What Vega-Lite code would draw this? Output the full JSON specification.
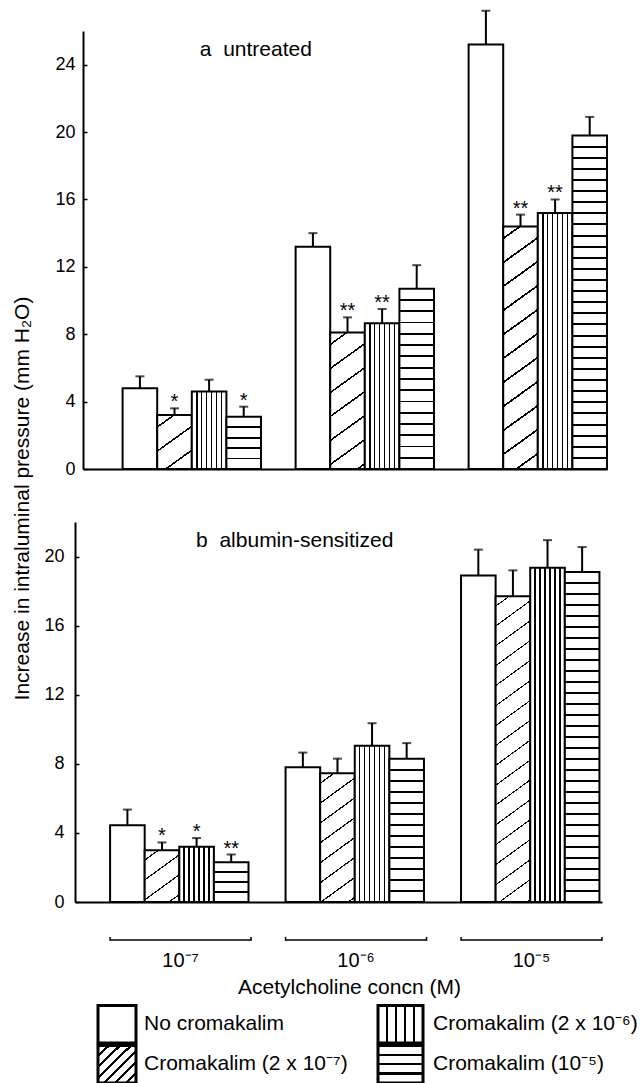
{
"$schema":"https://vega.github.io/schema/vega-lite/v6.json",
"padding":{"left":11,"top":9,"right":0,"bottom":0},
"config":{"view":{"stroke":null},"font":"Liberation Sans","axis":{"domainColor":"#000","tickColor":"#000","labelColor":"#000","titleColor":"#000","titleFontWeight":"normal","grid":false,"domainWidth":2,"labelFont":"Liberation Sans","titleFont":"Liberation Sans"}},
"datasets":{
"bars":[
{"panel":"a","dose":"10⁻⁷","treatment":"No cromakalim","value":4.8,"upper":5.5,"sig":""},
{"panel":"a","dose":"10⁻⁷","treatment":"Cromakalim (2 x 10⁻⁷)","value":3.2,"upper":3.6,"sig":"*"},
{"panel":"a","dose":"10⁻⁷","treatment":"Cromakalim (2 x 10⁻⁶)","value":4.6,"upper":5.3,"sig":""},
{"panel":"a","dose":"10⁻⁷","treatment":"Cromakalim (10⁻⁵)","value":3.1,"upper":3.7,"sig":"*"},
{"panel":"a","dose":"10⁻⁶","treatment":"No cromakalim","value":13.2,"upper":14.0,"sig":""},
{"panel":"a","dose":"10⁻⁶","treatment":"Cromakalim (2 x 10⁻⁷)","value":8.1,"upper":9.0,"sig":"**"},
{"panel":"a","dose":"10⁻⁶","treatment":"Cromakalim (2 x 10⁻⁶)","value":8.65,"upper":9.5,"sig":"**"},
{"panel":"a","dose":"10⁻⁶","treatment":"Cromakalim (10⁻⁵)","value":10.7,"upper":12.1,"sig":""},
{"panel":"a","dose":"10⁻⁵","treatment":"No cromakalim","value":25.2,"upper":27.2,"sig":""},
{"panel":"a","dose":"10⁻⁵","treatment":"Cromakalim (2 x 10⁻⁷)","value":14.4,"upper":15.1,"sig":"**"},
{"panel":"a","dose":"10⁻⁵","treatment":"Cromakalim (2 x 10⁻⁶)","value":15.2,"upper":16.0,"sig":"**"},
{"panel":"a","dose":"10⁻⁵","treatment":"Cromakalim (10⁻⁵)","value":19.8,"upper":20.9,"sig":""},
{"panel":"b","dose":"10⁻⁷","treatment":"No cromakalim","value":4.45,"upper":5.35,"sig":""},
{"panel":"b","dose":"10⁻⁷","treatment":"Cromakalim (2 x 10⁻⁷)","value":3.0,"upper":3.45,"sig":"*"},
{"panel":"b","dose":"10⁻⁷","treatment":"Cromakalim (2 x 10⁻⁶)","value":3.2,"upper":3.7,"sig":"*"},
{"panel":"b","dose":"10⁻⁷","treatment":"Cromakalim (10⁻⁵)","value":2.3,"upper":2.75,"sig":"**"},
{"panel":"b","dose":"10⁻⁶","treatment":"No cromakalim","value":7.8,"upper":8.65,"sig":""},
{"panel":"b","dose":"10⁻⁶","treatment":"Cromakalim (2 x 10⁻⁷)","value":7.45,"upper":8.3,"sig":""},
{"panel":"b","dose":"10⁻⁶","treatment":"Cromakalim (2 x 10⁻⁶)","value":9.05,"upper":10.35,"sig":""},
{"panel":"b","dose":"10⁻⁶","treatment":"Cromakalim (10⁻⁵)","value":8.3,"upper":9.2,"sig":""},
{"panel":"b","dose":"10⁻⁵","treatment":"No cromakalim","value":18.9,"upper":20.4,"sig":""},
{"panel":"b","dose":"10⁻⁵","treatment":"Cromakalim (2 x 10⁻⁷)","value":17.7,"upper":19.2,"sig":""},
{"panel":"b","dose":"10⁻⁵","treatment":"Cromakalim (2 x 10⁻⁶)","value":19.35,"upper":20.95,"sig":""},
{"panel":"b","dose":"10⁻⁵","treatment":"Cromakalim (10⁻⁵)","value":19.1,"upper":20.55,"sig":""}
],
"leg1":[{"label":"No cromakalim"},{"label":"Cromakalim (2 x 10⁻⁷)"}],
"leg2":[{"label":"Cromakalim (2 x 10⁻⁶)"},{"label":"Cromakalim (10⁻⁵)"}]
},
"bounds":"flush",
"spacing":53,
"vconcat":[
{
"width":524,"height":438,
"layer":[
{"data":{"name":"bars"},"transform":[{"filter":"datum.panel === 'a'"}],
"mark":{"type":"bar","stroke":"#000","strokeWidth":2},
"encoding":{
"x":{"field":"dose","type":"nominal","sort":null,"scale":{"domain":["10⁻⁷","10⁻⁶","10⁻⁵"],"paddingInner":0.2,"paddingOuter":0.1145,"align":1},"axis":{"labels":false,"ticks":false,"title":null,"domainWidth":2}},
"xOffset":{"field":"treatment","type":"nominal","sort":null,"scale":{"domain":["No cromakalim","Cromakalim (2 x 10⁻⁷)","Cromakalim (2 x 10⁻⁶)","Cromakalim (10⁻⁵)"],"paddingInner":0,"paddingOuter":0}},
"y":{"field":"value","type":"quantitative","scale":{"domain":[0,26],"nice":false},"axis":{"values":[0,2,4,6,8,10,12,14,16,18,20,22,24],"labelExpr":"datum.value % 4 === 0 ? datum.label : ''","tickSize":-4,"tickWidth":1.5,"labelPadding":12,"labelFontSize":18,"labelOverlap":false,"domainWidth":2,"title":"Increase in intraluminal pressure (mm H₂O)","titleFontSize":21,"titleX":-60.5,"titleY":467,"titleAlign":"center","titleBaseline":"middle","titleAngle":270}},
"fill":{"condition":[
{"test":"datum.treatment === 'Cromakalim (2 x 10⁻⁶)'","value":{"gradient":"linear","x1":0,"y1":0,"x2":1,"y2":0,"stops":[
{"offset":0.121,"color":"#fff"},{"offset":0.121,"color":"#000"},{"offset":0.165,"color":"#000"},{"offset":0.165,"color":"#fff"},
{"offset":0.264,"color":"#fff"},{"offset":0.264,"color":"#000"},{"offset":0.308,"color":"#000"},{"offset":0.308,"color":"#fff"},
{"offset":0.407,"color":"#fff"},{"offset":0.407,"color":"#000"},{"offset":0.451,"color":"#000"},{"offset":0.451,"color":"#fff"},
{"offset":0.549,"color":"#fff"},{"offset":0.549,"color":"#000"},{"offset":0.593,"color":"#000"},{"offset":0.593,"color":"#fff"},
{"offset":0.692,"color":"#fff"},{"offset":0.692,"color":"#000"},{"offset":0.736,"color":"#000"},{"offset":0.736,"color":"#fff"},
{"offset":0.835,"color":"#fff"},{"offset":0.835,"color":"#000"},{"offset":0.879,"color":"#000"},{"offset":0.879,"color":"#fff"}]}},
{"test":"datum.treatment === 'Cromakalim (10⁻⁵)' && datum.dose === '10⁻⁷'","value":{"gradient":"linear","x1":0,"y1":0,"x2":0,"y2":1,"stops":[
{"offset":0.183,"color":"#fff"},{"offset":0.183,"color":"#000"},{"offset":0.217,"color":"#000"},{"offset":0.217,"color":"#fff"},
{"offset":0.383,"color":"#fff"},{"offset":0.383,"color":"#000"},{"offset":0.417,"color":"#000"},{"offset":0.417,"color":"#fff"},
{"offset":0.583,"color":"#fff"},{"offset":0.583,"color":"#000"},{"offset":0.617,"color":"#000"},{"offset":0.617,"color":"#fff"},
{"offset":0.783,"color":"#fff"},{"offset":0.783,"color":"#000"},{"offset":0.817,"color":"#000"},{"offset":0.817,"color":"#fff"}]}},
{"test":"datum.treatment === 'Cromakalim (10⁻⁵)' && datum.dose === '10⁻⁶'","value":{"gradient":"linear","x1":0,"y1":0,"x2":0,"y2":1,"stops":[
{"offset":0.0575,"color":"#fff"},{"offset":0.0575,"color":"#000"},{"offset":0.0675,"color":"#000"},{"offset":0.0675,"color":"#fff"},
{"offset":0.12,"color":"#fff"},{"offset":0.12,"color":"#000"},{"offset":0.13,"color":"#000"},{"offset":0.13,"color":"#fff"},
{"offset":0.1825,"color":"#fff"},{"offset":0.1825,"color":"#000"},{"offset":0.1925,"color":"#000"},{"offset":0.1925,"color":"#fff"},
{"offset":0.245,"color":"#fff"},{"offset":0.245,"color":"#000"},{"offset":0.255,"color":"#000"},{"offset":0.255,"color":"#fff"},
{"offset":0.3075,"color":"#fff"},{"offset":0.3075,"color":"#000"},{"offset":0.3175,"color":"#000"},{"offset":0.3175,"color":"#fff"},
{"offset":0.37,"color":"#fff"},{"offset":0.37,"color":"#000"},{"offset":0.38,"color":"#000"},{"offset":0.38,"color":"#fff"},
{"offset":0.4325,"color":"#fff"},{"offset":0.4325,"color":"#000"},{"offset":0.4425,"color":"#000"},{"offset":0.4425,"color":"#fff"},
{"offset":0.495,"color":"#fff"},{"offset":0.495,"color":"#000"},{"offset":0.505,"color":"#000"},{"offset":0.505,"color":"#fff"},
{"offset":0.5575,"color":"#fff"},{"offset":0.5575,"color":"#000"},{"offset":0.5675,"color":"#000"},{"offset":0.5675,"color":"#fff"},
{"offset":0.62,"color":"#fff"},{"offset":0.62,"color":"#000"},{"offset":0.63,"color":"#000"},{"offset":0.63,"color":"#fff"},
{"offset":0.6825,"color":"#fff"},{"offset":0.6825,"color":"#000"},{"offset":0.6925,"color":"#000"},{"offset":0.6925,"color":"#fff"},
{"offset":0.745,"color":"#fff"},{"offset":0.745,"color":"#000"},{"offset":0.755,"color":"#000"},{"offset":0.755,"color":"#fff"},
{"offset":0.8075,"color":"#fff"},{"offset":0.8075,"color":"#000"},{"offset":0.8175,"color":"#000"},{"offset":0.8175,"color":"#fff"},
{"offset":0.87,"color":"#fff"},{"offset":0.87,"color":"#000"},{"offset":0.88,"color":"#000"},{"offset":0.88,"color":"#fff"},
{"offset":0.9325,"color":"#fff"},{"offset":0.9325,"color":"#000"},{"offset":0.9425,"color":"#000"},{"offset":0.9425,"color":"#fff"}]}},
{"test":"datum.treatment === 'Cromakalim (10⁻⁵)' && datum.dose === '10⁻⁵'","value":{"gradient":"linear","x1":0,"y1":0,"x2":0,"y2":1,"stops":[
{"offset":0.0303,"color":"#fff"},{"offset":0.0303,"color":"#000"},{"offset":0.0363,"color":"#000"},{"offset":0.0363,"color":"#fff"},
{"offset":0.0637,"color":"#fff"},{"offset":0.0637,"color":"#000"},{"offset":0.0697,"color":"#000"},{"offset":0.0697,"color":"#fff"},
{"offset":0.097,"color":"#fff"},{"offset":0.097,"color":"#000"},{"offset":0.103,"color":"#000"},{"offset":0.103,"color":"#fff"},
{"offset":0.1303,"color":"#fff"},{"offset":0.1303,"color":"#000"},{"offset":0.1363,"color":"#000"},{"offset":0.1363,"color":"#fff"},
{"offset":0.1637,"color":"#fff"},{"offset":0.1637,"color":"#000"},{"offset":0.1697,"color":"#000"},{"offset":0.1697,"color":"#fff"},
{"offset":0.197,"color":"#fff"},{"offset":0.197,"color":"#000"},{"offset":0.203,"color":"#000"},{"offset":0.203,"color":"#fff"},
{"offset":0.2303,"color":"#fff"},{"offset":0.2303,"color":"#000"},{"offset":0.2363,"color":"#000"},{"offset":0.2363,"color":"#fff"},
{"offset":0.2637,"color":"#fff"},{"offset":0.2637,"color":"#000"},{"offset":0.2697,"color":"#000"},{"offset":0.2697,"color":"#fff"},
{"offset":0.297,"color":"#fff"},{"offset":0.297,"color":"#000"},{"offset":0.303,"color":"#000"},{"offset":0.303,"color":"#fff"},
{"offset":0.3303,"color":"#fff"},{"offset":0.3303,"color":"#000"},{"offset":0.3363,"color":"#000"},{"offset":0.3363,"color":"#fff"},
{"offset":0.3637,"color":"#fff"},{"offset":0.3637,"color":"#000"},{"offset":0.3697,"color":"#000"},{"offset":0.3697,"color":"#fff"},
{"offset":0.397,"color":"#fff"},{"offset":0.397,"color":"#000"},{"offset":0.403,"color":"#000"},{"offset":0.403,"color":"#fff"},
{"offset":0.4303,"color":"#fff"},{"offset":0.4303,"color":"#000"},{"offset":0.4363,"color":"#000"},{"offset":0.4363,"color":"#fff"},
{"offset":0.4637,"color":"#fff"},{"offset":0.4637,"color":"#000"},{"offset":0.4697,"color":"#000"},{"offset":0.4697,"color":"#fff"},
{"offset":0.497,"color":"#fff"},{"offset":0.497,"color":"#000"},{"offset":0.503,"color":"#000"},{"offset":0.503,"color":"#fff"},
{"offset":0.5303,"color":"#fff"},{"offset":0.5303,"color":"#000"},{"offset":0.5363,"color":"#000"},{"offset":0.5363,"color":"#fff"},
{"offset":0.5637,"color":"#fff"},{"offset":0.5637,"color":"#000"},{"offset":0.5697,"color":"#000"},{"offset":0.5697,"color":"#fff"},
{"offset":0.597,"color":"#fff"},{"offset":0.597,"color":"#000"},{"offset":0.603,"color":"#000"},{"offset":0.603,"color":"#fff"},
{"offset":0.6303,"color":"#fff"},{"offset":0.6303,"color":"#000"},{"offset":0.6363,"color":"#000"},{"offset":0.6363,"color":"#fff"},
{"offset":0.6637,"color":"#fff"},{"offset":0.6637,"color":"#000"},{"offset":0.6697,"color":"#000"},{"offset":0.6697,"color":"#fff"},
{"offset":0.697,"color":"#fff"},{"offset":0.697,"color":"#000"},{"offset":0.703,"color":"#000"},{"offset":0.703,"color":"#fff"},
{"offset":0.7303,"color":"#fff"},{"offset":0.7303,"color":"#000"},{"offset":0.7363,"color":"#000"},{"offset":0.7363,"color":"#fff"},
{"offset":0.7637,"color":"#fff"},{"offset":0.7637,"color":"#000"},{"offset":0.7697,"color":"#000"},{"offset":0.7697,"color":"#fff"},
{"offset":0.797,"color":"#fff"},{"offset":0.797,"color":"#000"},{"offset":0.803,"color":"#000"},{"offset":0.803,"color":"#fff"},
{"offset":0.8303,"color":"#fff"},{"offset":0.8303,"color":"#000"},{"offset":0.8363,"color":"#000"},{"offset":0.8363,"color":"#fff"},
{"offset":0.8637,"color":"#fff"},{"offset":0.8637,"color":"#000"},{"offset":0.8697,"color":"#000"},{"offset":0.8697,"color":"#fff"},
{"offset":0.897,"color":"#fff"},{"offset":0.897,"color":"#000"},{"offset":0.903,"color":"#000"},{"offset":0.903,"color":"#fff"},
{"offset":0.9303,"color":"#fff"},{"offset":0.9303,"color":"#000"},{"offset":0.9363,"color":"#000"},{"offset":0.9363,"color":"#fff"},
{"offset":0.9637,"color":"#fff"},{"offset":0.9637,"color":"#000"},{"offset":0.9697,"color":"#000"},{"offset":0.9697,"color":"#fff"}]}},
{"test":"datum.treatment === 'Cromakalim (2 x 10⁻⁷)' && datum.dose === '10⁻⁷'","value":{"gradient":"linear","x1":0,"y1":0,"x2":0.5565,"y2":1.2047,"stops":[
{"offset":0.14,"color":"#fff"},{"offset":0.14,"color":"#000"},{"offset":0.165,"color":"#000"},{"offset":0.165,"color":"#fff"},
{"offset":0.445,"color":"#fff"},{"offset":0.445,"color":"#000"},{"offset":0.47,"color":"#000"},{"offset":0.47,"color":"#fff"},
{"offset":0.749,"color":"#fff"},{"offset":0.749,"color":"#000"},{"offset":0.774,"color":"#000"},{"offset":0.774,"color":"#fff"}]}},
{"test":"datum.treatment === 'Cromakalim (2 x 10⁻⁷)' && datum.dose === '10⁻⁶'","value":{"gradient":"linear","x1":0,"y1":0,"x2":0.2088,"y2":1.1444,"stops":[
{"offset":0.068,"color":"#fff"},{"offset":0.068,"color":"#000"},{"offset":0.08,"color":"#000"},{"offset":0.08,"color":"#fff"},
{"offset":0.217,"color":"#fff"},{"offset":0.217,"color":"#000"},{"offset":0.229,"color":"#000"},{"offset":0.229,"color":"#fff"},
{"offset":0.366,"color":"#fff"},{"offset":0.366,"color":"#000"},{"offset":0.378,"color":"#000"},{"offset":0.378,"color":"#fff"},
{"offset":0.514,"color":"#fff"},{"offset":0.514,"color":"#000"},{"offset":0.526,"color":"#000"},{"offset":0.526,"color":"#fff"},
{"offset":0.663,"color":"#fff"},{"offset":0.663,"color":"#000"},{"offset":0.675,"color":"#000"},{"offset":0.675,"color":"#fff"},
{"offset":0.812,"color":"#fff"},{"offset":0.812,"color":"#000"},{"offset":0.824,"color":"#000"},{"offset":0.824,"color":"#fff"},
{"offset":0.961,"color":"#fff"},{"offset":0.961,"color":"#000"},{"offset":0.973,"color":"#000"},{"offset":0.973,"color":"#fff"}]}},
{"test":"datum.treatment === 'Cromakalim (2 x 10⁻⁷)' && datum.dose === '10⁻⁵'","value":{"gradient":"linear","x1":0,"y1":0,"x2":0.112,"y2":1.0912,"stops":[
{"offset":0.041,"color":"#fff"},{"offset":0.041,"color":"#000"},{"offset":0.049,"color":"#000"},{"offset":0.049,"color":"#fff"},
{"offset":0.131,"color":"#fff"},{"offset":0.131,"color":"#000"},{"offset":0.139,"color":"#000"},{"offset":0.139,"color":"#fff"},
{"offset":0.22,"color":"#fff"},{"offset":0.22,"color":"#000"},{"offset":0.228,"color":"#000"},{"offset":0.228,"color":"#fff"},
{"offset":0.31,"color":"#fff"},{"offset":0.31,"color":"#000"},{"offset":0.318,"color":"#000"},{"offset":0.318,"color":"#fff"},
{"offset":0.4,"color":"#fff"},{"offset":0.4,"color":"#000"},{"offset":0.408,"color":"#000"},{"offset":0.408,"color":"#fff"},
{"offset":0.489,"color":"#fff"},{"offset":0.489,"color":"#000"},{"offset":0.497,"color":"#000"},{"offset":0.497,"color":"#fff"},
{"offset":0.579,"color":"#fff"},{"offset":0.579,"color":"#000"},{"offset":0.587,"color":"#000"},{"offset":0.587,"color":"#fff"},
{"offset":0.669,"color":"#fff"},{"offset":0.669,"color":"#000"},{"offset":0.677,"color":"#000"},{"offset":0.677,"color":"#fff"},
{"offset":0.759,"color":"#fff"},{"offset":0.759,"color":"#000"},{"offset":0.767,"color":"#000"},{"offset":0.767,"color":"#fff"},
{"offset":0.848,"color":"#fff"},{"offset":0.848,"color":"#000"},{"offset":0.856,"color":"#000"},{"offset":0.856,"color":"#fff"},
{"offset":0.938,"color":"#fff"},{"offset":0.938,"color":"#000"},{"offset":0.946,"color":"#000"},{"offset":0.946,"color":"#fff"}]}}
],"value":"#fff"}
}},
{"data":{"name":"bars"},"transform":[{"filter":"datum.panel === 'a'"}],
"mark":{"type":"rule","stroke":"#000","strokeWidth":2},
"encoding":{
"x":{"field":"dose","type":"nominal","sort":null,"scale":{"domain":["10⁻⁷","10⁻⁶","10⁻⁵"],"paddingInner":0.2,"paddingOuter":0.1145,"align":1}},
"xOffset":{"field":"treatment","type":"nominal","sort":null,"scale":{"domain":["No cromakalim","Cromakalim (2 x 10⁻⁷)","Cromakalim (2 x 10⁻⁶)","Cromakalim (10⁻⁵)"],"paddingInner":0,"paddingOuter":0}},
"y":{"field":"value","type":"quantitative","scale":{"domain":[0,26],"nice":false}},
"y2":{"field":"upper"}}},
{"data":{"name":"bars"},"transform":[{"filter":"datum.panel === 'a'"}],
"mark":{"type":"tick","color":"#000","thickness":2,"size":9},
"encoding":{
"x":{"field":"dose","type":"nominal","sort":null,"scale":{"domain":["10⁻⁷","10⁻⁶","10⁻⁵"],"paddingInner":0.2,"paddingOuter":0.1145,"align":1}},
"xOffset":{"field":"treatment","type":"nominal","sort":null,"scale":{"domain":["No cromakalim","Cromakalim (2 x 10⁻⁷)","Cromakalim (2 x 10⁻⁶)","Cromakalim (10⁻⁵)"],"paddingInner":0,"paddingOuter":0}},
"y":{"field":"upper","type":"quantitative","scale":{"domain":[0,26],"nice":false}}}},
{"data":{"name":"bars"},"transform":[{"filter":"datum.panel === 'a' && datum.sig !== ''"}],
"mark":{"type":"text","color":"#000","fontSize":20,"baseline":"alphabetic","dy":0},
"encoding":{
"x":{"field":"dose","type":"nominal","sort":null,"scale":{"domain":["10⁻⁷","10⁻⁶","10⁻⁵"],"paddingInner":0.2,"paddingOuter":0.1145,"align":1}},
"xOffset":{"field":"treatment","type":"nominal","sort":null,"scale":{"domain":["No cromakalim","Cromakalim (2 x 10⁻⁷)","Cromakalim (2 x 10⁻⁶)","Cromakalim (10⁻⁵)"],"paddingInner":0,"paddingOuter":0}},
"y":{"field":"upper","type":"quantitative","scale":{"domain":[0,26],"nice":false}},
"text":{"field":"sig"}}},
{"data":{"values":[{"label":"a\u00a0 untreated"}]},
"mark":{"type":"text","color":"#000","fontSize":21,"align":"left","baseline":"middle","dx":8},
"encoding":{
"x":{"datum":"10⁻⁷","type":"nominal","scale":{"domain":["10⁻⁷","10⁻⁶","10⁻⁵"],"paddingInner":0.2,"paddingOuter":0.1145,"align":1}},
"y":{"datum":24.9,"type":"quantitative","scale":{"domain":[0,26],"nice":false}},
"text":{"field":"label"}}}
]
},
{
"width":519,"height":380,
"layer":[
{"data":{"name":"bars"},"transform":[{"filter":"datum.panel === 'b'"}],
"mark":{"type":"bar","stroke":"#000","strokeWidth":2},
"encoding":{
"x":{"field":"dose","type":"nominal","sort":null,"scale":{"domain":["10⁻⁷","10⁻⁶","10⁻⁵"],"paddingInner":0.1966,"paddingOuter":0.1,"align":1,"range":[-8,519]},"axis":{"labels":true,"ticks":false,"labelPadding":48,"labelFontSize":20,"labelAngle":0,"domainWidth":2,"title":"Acetylcholine concn (M)","titleFontSize":21,"titleX":266,"titleY":91,"titleAlign":"center","titleBaseline":"alphabetic"}},
"xOffset":{"field":"treatment","type":"nominal","sort":null,"scale":{"domain":["No cromakalim","Cromakalim (2 x 10⁻⁷)","Cromakalim (2 x 10⁻⁶)","Cromakalim (10⁻⁵)"],"paddingInner":0,"paddingOuter":0}},
"y":{"field":"value","type":"quantitative","scale":{"domain":[0,22],"nice":false},"axis":{"values":[0,2,4,6,8,10,12,14,16,18,20,22],"labelExpr":"datum.value % 4 === 0 ? datum.label : ''","tickSize":-4,"tickWidth":1.5,"labelPadding":15,"labelFontSize":18,"labelOverlap":false,"domainWidth":2,"offset":8,"title":null}},
"fill":{"condition":[
{"test":"datum.treatment === 'Cromakalim (2 x 10⁻⁶)'","value":{"gradient":"linear","x1":0,"y1":0,"x2":1,"y2":0,"stops":[
{"offset":0.121,"color":"#fff"},{"offset":0.121,"color":"#000"},{"offset":0.165,"color":"#000"},{"offset":0.165,"color":"#fff"},
{"offset":0.264,"color":"#fff"},{"offset":0.264,"color":"#000"},{"offset":0.308,"color":"#000"},{"offset":0.308,"color":"#fff"},
{"offset":0.407,"color":"#fff"},{"offset":0.407,"color":"#000"},{"offset":0.451,"color":"#000"},{"offset":0.451,"color":"#fff"},
{"offset":0.549,"color":"#fff"},{"offset":0.549,"color":"#000"},{"offset":0.593,"color":"#000"},{"offset":0.593,"color":"#fff"},
{"offset":0.692,"color":"#fff"},{"offset":0.692,"color":"#000"},{"offset":0.736,"color":"#000"},{"offset":0.736,"color":"#fff"},
{"offset":0.835,"color":"#fff"},{"offset":0.835,"color":"#000"},{"offset":0.879,"color":"#000"},{"offset":0.879,"color":"#fff"}]}},
{"test":"datum.treatment === 'Cromakalim (10⁻⁵)' && datum.dose === '10⁻⁷'","value":{"gradient":"linear","x1":0,"y1":0,"x2":0,"y2":1,"stops":[
{"offset":0.228,"color":"#fff"},{"offset":0.228,"color":"#000"},{"offset":0.272,"color":"#000"},{"offset":0.272,"color":"#fff"},
{"offset":0.478,"color":"#fff"},{"offset":0.478,"color":"#000"},{"offset":0.522,"color":"#000"},{"offset":0.522,"color":"#fff"},
{"offset":0.728,"color":"#fff"},{"offset":0.728,"color":"#000"},{"offset":0.772,"color":"#000"},{"offset":0.772,"color":"#fff"}]}},
{"test":"datum.treatment === 'Cromakalim (10⁻⁵)' && datum.dose === '10⁻⁶'","value":{"gradient":"linear","x1":0,"y1":0,"x2":0,"y2":1,"stops":[
{"offset":0.0709,"color":"#fff"},{"offset":0.0709,"color":"#000"},{"offset":0.0829,"color":"#000"},{"offset":0.0829,"color":"#fff"},
{"offset":0.1478,"color":"#fff"},{"offset":0.1478,"color":"#000"},{"offset":0.1598,"color":"#000"},{"offset":0.1598,"color":"#fff"},
{"offset":0.2248,"color":"#fff"},{"offset":0.2248,"color":"#000"},{"offset":0.2368,"color":"#000"},{"offset":0.2368,"color":"#fff"},
{"offset":0.3017,"color":"#fff"},{"offset":0.3017,"color":"#000"},{"offset":0.3137,"color":"#000"},{"offset":0.3137,"color":"#fff"},
{"offset":0.3786,"color":"#fff"},{"offset":0.3786,"color":"#000"},{"offset":0.3906,"color":"#000"},{"offset":0.3906,"color":"#fff"},
{"offset":0.4555,"color":"#fff"},{"offset":0.4555,"color":"#000"},{"offset":0.4675,"color":"#000"},{"offset":0.4675,"color":"#fff"},
{"offset":0.5325,"color":"#fff"},{"offset":0.5325,"color":"#000"},{"offset":0.5445,"color":"#000"},{"offset":0.5445,"color":"#fff"},
{"offset":0.6094,"color":"#fff"},{"offset":0.6094,"color":"#000"},{"offset":0.6214,"color":"#000"},{"offset":0.6214,"color":"#fff"},
{"offset":0.6863,"color":"#fff"},{"offset":0.6863,"color":"#000"},{"offset":0.6983,"color":"#000"},{"offset":0.6983,"color":"#fff"},
{"offset":0.7632,"color":"#fff"},{"offset":0.7632,"color":"#000"},{"offset":0.7752,"color":"#000"},{"offset":0.7752,"color":"#fff"},
{"offset":0.8402,"color":"#fff"},{"offset":0.8402,"color":"#000"},{"offset":0.8522,"color":"#000"},{"offset":0.8522,"color":"#fff"},
{"offset":0.9171,"color":"#fff"},{"offset":0.9171,"color":"#000"},{"offset":0.9291,"color":"#000"},{"offset":0.9291,"color":"#fff"}]}},
{"test":"datum.treatment === 'Cromakalim (10⁻⁵)' && datum.dose === '10⁻⁵'","value":{"gradient":"linear","x1":0,"y1":0,"x2":0,"y2":1,"stops":[
{"offset":0.0303,"color":"#fff"},{"offset":0.0303,"color":"#000"},{"offset":0.0363,"color":"#000"},{"offset":0.0363,"color":"#fff"},
{"offset":0.0637,"color":"#fff"},{"offset":0.0637,"color":"#000"},{"offset":0.0697,"color":"#000"},{"offset":0.0697,"color":"#fff"},
{"offset":0.097,"color":"#fff"},{"offset":0.097,"color":"#000"},{"offset":0.103,"color":"#000"},{"offset":0.103,"color":"#fff"},
{"offset":0.1303,"color":"#fff"},{"offset":0.1303,"color":"#000"},{"offset":0.1363,"color":"#000"},{"offset":0.1363,"color":"#fff"},
{"offset":0.1637,"color":"#fff"},{"offset":0.1637,"color":"#000"},{"offset":0.1697,"color":"#000"},{"offset":0.1697,"color":"#fff"},
{"offset":0.197,"color":"#fff"},{"offset":0.197,"color":"#000"},{"offset":0.203,"color":"#000"},{"offset":0.203,"color":"#fff"},
{"offset":0.2303,"color":"#fff"},{"offset":0.2303,"color":"#000"},{"offset":0.2363,"color":"#000"},{"offset":0.2363,"color":"#fff"},
{"offset":0.2637,"color":"#fff"},{"offset":0.2637,"color":"#000"},{"offset":0.2697,"color":"#000"},{"offset":0.2697,"color":"#fff"},
{"offset":0.297,"color":"#fff"},{"offset":0.297,"color":"#000"},{"offset":0.303,"color":"#000"},{"offset":0.303,"color":"#fff"},
{"offset":0.3303,"color":"#fff"},{"offset":0.3303,"color":"#000"},{"offset":0.3363,"color":"#000"},{"offset":0.3363,"color":"#fff"},
{"offset":0.3637,"color":"#fff"},{"offset":0.3637,"color":"#000"},{"offset":0.3697,"color":"#000"},{"offset":0.3697,"color":"#fff"},
{"offset":0.397,"color":"#fff"},{"offset":0.397,"color":"#000"},{"offset":0.403,"color":"#000"},{"offset":0.403,"color":"#fff"},
{"offset":0.4303,"color":"#fff"},{"offset":0.4303,"color":"#000"},{"offset":0.4363,"color":"#000"},{"offset":0.4363,"color":"#fff"},
{"offset":0.4637,"color":"#fff"},{"offset":0.4637,"color":"#000"},{"offset":0.4697,"color":"#000"},{"offset":0.4697,"color":"#fff"},
{"offset":0.497,"color":"#fff"},{"offset":0.497,"color":"#000"},{"offset":0.503,"color":"#000"},{"offset":0.503,"color":"#fff"},
{"offset":0.5303,"color":"#fff"},{"offset":0.5303,"color":"#000"},{"offset":0.5363,"color":"#000"},{"offset":0.5363,"color":"#fff"},
{"offset":0.5637,"color":"#fff"},{"offset":0.5637,"color":"#000"},{"offset":0.5697,"color":"#000"},{"offset":0.5697,"color":"#fff"},
{"offset":0.597,"color":"#fff"},{"offset":0.597,"color":"#000"},{"offset":0.603,"color":"#000"},{"offset":0.603,"color":"#fff"},
{"offset":0.6303,"color":"#fff"},{"offset":0.6303,"color":"#000"},{"offset":0.6363,"color":"#000"},{"offset":0.6363,"color":"#fff"},
{"offset":0.6637,"color":"#fff"},{"offset":0.6637,"color":"#000"},{"offset":0.6697,"color":"#000"},{"offset":0.6697,"color":"#fff"},
{"offset":0.697,"color":"#fff"},{"offset":0.697,"color":"#000"},{"offset":0.703,"color":"#000"},{"offset":0.703,"color":"#fff"},
{"offset":0.7303,"color":"#fff"},{"offset":0.7303,"color":"#000"},{"offset":0.7363,"color":"#000"},{"offset":0.7363,"color":"#fff"},
{"offset":0.7637,"color":"#fff"},{"offset":0.7637,"color":"#000"},{"offset":0.7697,"color":"#000"},{"offset":0.7697,"color":"#fff"},
{"offset":0.797,"color":"#fff"},{"offset":0.797,"color":"#000"},{"offset":0.803,"color":"#000"},{"offset":0.803,"color":"#fff"},
{"offset":0.8303,"color":"#fff"},{"offset":0.8303,"color":"#000"},{"offset":0.8363,"color":"#000"},{"offset":0.8363,"color":"#fff"},
{"offset":0.8637,"color":"#fff"},{"offset":0.8637,"color":"#000"},{"offset":0.8697,"color":"#000"},{"offset":0.8697,"color":"#fff"},
{"offset":0.897,"color":"#fff"},{"offset":0.897,"color":"#000"},{"offset":0.903,"color":"#000"},{"offset":0.903,"color":"#fff"},
{"offset":0.9303,"color":"#fff"},{"offset":0.9303,"color":"#000"},{"offset":0.9363,"color":"#000"},{"offset":0.9363,"color":"#fff"},
{"offset":0.9637,"color":"#fff"},{"offset":0.9637,"color":"#000"},{"offset":0.9697,"color":"#000"},{"offset":0.9697,"color":"#fff"}]}},
{"test":"datum.treatment === 'Cromakalim (2 x 10⁻⁷)' && datum.dose === '10⁻⁷'","value":{"gradient":"linear","x1":0,"y1":0,"x2":0.5852,"y2":1.2018,"stops":[
{"offset":0.1195,"color":"#fff"},{"offset":0.1195,"color":"#000"},{"offset":0.1385,"color":"#000"},{"offset":0.1385,"color":"#fff"},
{"offset":0.3775,"color":"#fff"},{"offset":0.3775,"color":"#000"},{"offset":0.3965,"color":"#000"},{"offset":0.3965,"color":"#fff"},
{"offset":0.6355,"color":"#fff"},{"offset":0.6355,"color":"#000"},{"offset":0.6545,"color":"#000"},{"offset":0.6545,"color":"#fff"},
{"offset":0.8935,"color":"#fff"},{"offset":0.8935,"color":"#000"},{"offset":0.9125,"color":"#000"},{"offset":0.9125,"color":"#fff"}]}},
{"test":"datum.treatment === 'Cromakalim (2 x 10⁻⁷)' && datum.dose === '10⁻⁶'","value":{"gradient":"linear","x1":0,"y1":0,"x2":0.226,"y2":1.1518,"stops":[
{"offset":0.06,"color":"#fff"},{"offset":0.06,"color":"#000"},{"offset":0.07,"color":"#000"},{"offset":0.07,"color":"#fff"},
{"offset":0.189,"color":"#fff"},{"offset":0.189,"color":"#000"},{"offset":0.199,"color":"#000"},{"offset":0.199,"color":"#fff"},
{"offset":0.318,"color":"#fff"},{"offset":0.318,"color":"#000"},{"offset":0.328,"color":"#000"},{"offset":0.328,"color":"#fff"},
{"offset":0.447,"color":"#fff"},{"offset":0.447,"color":"#000"},{"offset":0.457,"color":"#000"},{"offset":0.457,"color":"#fff"},
{"offset":0.576,"color":"#fff"},{"offset":0.576,"color":"#000"},{"offset":0.586,"color":"#000"},{"offset":0.586,"color":"#fff"},
{"offset":0.706,"color":"#fff"},{"offset":0.706,"color":"#000"},{"offset":0.716,"color":"#000"},{"offset":0.716,"color":"#fff"},
{"offset":0.835,"color":"#fff"},{"offset":0.835,"color":"#000"},{"offset":0.845,"color":"#000"},{"offset":0.845,"color":"#fff"},
{"offset":0.964,"color":"#fff"},{"offset":0.964,"color":"#000"},{"offset":0.974,"color":"#000"},{"offset":0.974,"color":"#fff"}]}},
{"test":"datum.treatment === 'Cromakalim (2 x 10⁻⁷)' && datum.dose === '10⁻⁵'","value":{"gradient":"linear","x1":0,"y1":0,"x2":0.0888,"y2":1.0753,"stops":[
{"offset":0.028,"color":"#fff"},{"offset":0.028,"color":"#000"},{"offset":0.032,"color":"#000"},{"offset":0.032,"color":"#fff"},
{"offset":0.088,"color":"#fff"},{"offset":0.088,"color":"#000"},{"offset":0.092,"color":"#000"},{"offset":0.092,"color":"#fff"},
{"offset":0.148,"color":"#fff"},{"offset":0.148,"color":"#000"},{"offset":0.152,"color":"#000"},{"offset":0.152,"color":"#fff"},
{"offset":0.208,"color":"#fff"},{"offset":0.208,"color":"#000"},{"offset":0.212,"color":"#000"},{"offset":0.212,"color":"#fff"},
{"offset":0.268,"color":"#fff"},{"offset":0.268,"color":"#000"},{"offset":0.272,"color":"#000"},{"offset":0.272,"color":"#fff"},
{"offset":0.329,"color":"#fff"},{"offset":0.329,"color":"#000"},{"offset":0.333,"color":"#000"},{"offset":0.333,"color":"#fff"},
{"offset":0.389,"color":"#fff"},{"offset":0.389,"color":"#000"},{"offset":0.393,"color":"#000"},{"offset":0.393,"color":"#fff"},
{"offset":0.449,"color":"#fff"},{"offset":0.449,"color":"#000"},{"offset":0.453,"color":"#000"},{"offset":0.453,"color":"#fff"},
{"offset":0.509,"color":"#fff"},{"offset":0.509,"color":"#000"},{"offset":0.513,"color":"#000"},{"offset":0.513,"color":"#fff"},
{"offset":0.569,"color":"#fff"},{"offset":0.569,"color":"#000"},{"offset":0.573,"color":"#000"},{"offset":0.573,"color":"#fff"},
{"offset":0.629,"color":"#fff"},{"offset":0.629,"color":"#000"},{"offset":0.633,"color":"#000"},{"offset":0.633,"color":"#fff"},
{"offset":0.689,"color":"#fff"},{"offset":0.689,"color":"#000"},{"offset":0.693,"color":"#000"},{"offset":0.693,"color":"#fff"},
{"offset":0.749,"color":"#fff"},{"offset":0.749,"color":"#000"},{"offset":0.753,"color":"#000"},{"offset":0.753,"color":"#fff"},
{"offset":0.809,"color":"#fff"},{"offset":0.809,"color":"#000"},{"offset":0.813,"color":"#000"},{"offset":0.813,"color":"#fff"},
{"offset":0.87,"color":"#fff"},{"offset":0.87,"color":"#000"},{"offset":0.874,"color":"#000"},{"offset":0.874,"color":"#fff"},
{"offset":0.93,"color":"#fff"},{"offset":0.93,"color":"#000"},{"offset":0.934,"color":"#000"},{"offset":0.934,"color":"#fff"},
{"offset":0.99,"color":"#fff"},{"offset":0.99,"color":"#000"},{"offset":0.994,"color":"#000"},{"offset":0.994,"color":"#fff"}]}}
],"value":"#fff"}
}},
{"data":{"name":"bars"},"transform":[{"filter":"datum.panel === 'b'"}],
"mark":{"type":"rule","stroke":"#000","strokeWidth":2},
"encoding":{
"x":{"field":"dose","type":"nominal","sort":null,"scale":{"domain":["10⁻⁷","10⁻⁶","10⁻⁵"],"paddingInner":0.1966,"paddingOuter":0.1,"align":1,"range":[-8,519]}},
"xOffset":{"field":"treatment","type":"nominal","sort":null,"scale":{"domain":["No cromakalim","Cromakalim (2 x 10⁻⁷)","Cromakalim (2 x 10⁻⁶)","Cromakalim (10⁻⁵)"],"paddingInner":0,"paddingOuter":0}},
"y":{"field":"value","type":"quantitative","scale":{"domain":[0,22],"nice":false}},
"y2":{"field":"upper"}}},
{"data":{"name":"bars"},"transform":[{"filter":"datum.panel === 'b'"}],
"mark":{"type":"tick","color":"#000","thickness":2,"size":9},
"encoding":{
"x":{"field":"dose","type":"nominal","sort":null,"scale":{"domain":["10⁻⁷","10⁻⁶","10⁻⁵"],"paddingInner":0.1966,"paddingOuter":0.1,"align":1,"range":[-8,519]}},
"xOffset":{"field":"treatment","type":"nominal","sort":null,"scale":{"domain":["No cromakalim","Cromakalim (2 x 10⁻⁷)","Cromakalim (2 x 10⁻⁶)","Cromakalim (10⁻⁵)"],"paddingInner":0,"paddingOuter":0}},
"y":{"field":"upper","type":"quantitative","scale":{"domain":[0,22],"nice":false}}}},
{"data":{"name":"bars"},"transform":[{"filter":"datum.panel === 'b' && datum.sig !== ''"}],
"mark":{"type":"text","color":"#000","fontSize":20,"baseline":"alphabetic","dy":0},
"encoding":{
"x":{"field":"dose","type":"nominal","sort":null,"scale":{"domain":["10⁻⁷","10⁻⁶","10⁻⁵"],"paddingInner":0.1966,"paddingOuter":0.1,"align":1,"range":[-8,519]}},
"xOffset":{"field":"treatment","type":"nominal","sort":null,"scale":{"domain":["No cromakalim","Cromakalim (2 x 10⁻⁷)","Cromakalim (2 x 10⁻⁶)","Cromakalim (10⁻⁵)"],"paddingInner":0,"paddingOuter":0}},
"y":{"field":"upper","type":"quantitative","scale":{"domain":[0,22],"nice":false}},
"text":{"field":"sig"}}},
{"data":{"name":"bars"},"transform":[{"filter":"datum.panel === 'b' && datum.treatment === 'No cromakalim'"}],
"mark":{"type":"bar","fill":"#000","stroke":null},
"encoding":{
"x":{"field":"dose","type":"nominal","sort":null,"scale":{"domain":["10⁻⁷","10⁻⁶","10⁻⁵"],"paddingInner":0.1966,"paddingOuter":0.1,"align":1,"range":[-8,519]}},
"y":{"datum":-2.15,"type":"quantitative","scale":{"domain":[0,22],"nice":false}},
"y2":{"datum":-2.25}}},
{"data":{"name":"bars"},"transform":[{"filter":"datum.panel === 'b' && datum.treatment === 'No cromakalim'"}],
"mark":{"type":"rule","stroke":"#000","strokeWidth":1.5},
"encoding":{
"x":{"field":"dose","type":"nominal","sort":null,"bandPosition":0,"scale":{"domain":["10⁻⁷","10⁻⁶","10⁻⁵"],"paddingInner":0.1966,"paddingOuter":0.1,"align":1,"range":[-8,519]}},
"y":{"datum":-2.25,"type":"quantitative","scale":{"domain":[0,22],"nice":false}},
"y2":{"datum":-2.02}}},
{"data":{"name":"bars"},"transform":[{"filter":"datum.panel === 'b' && datum.treatment === 'No cromakalim'"}],
"mark":{"type":"rule","stroke":"#000","strokeWidth":1.5},
"encoding":{
"x":{"field":"dose","type":"nominal","sort":null,"bandPosition":1,"scale":{"domain":["10⁻⁷","10⁻⁶","10⁻⁵"],"paddingInner":0.1966,"paddingOuter":0.1,"align":1,"range":[-8,519]}},
"y":{"datum":-2.25,"type":"quantitative","scale":{"domain":[0,22],"nice":false}},
"y2":{"datum":-2.02}}},
{"data":{"values":[{"label":"b\u00a0 albumin-sensitized"}]},
"mark":{"type":"text","color":"#000","fontSize":21,"align":"left","baseline":"middle","dx":15.5},
"encoding":{
"x":{"datum":"10⁻⁷","type":"nominal","scale":{"domain":["10⁻⁷","10⁻⁶","10⁻⁵"],"paddingInner":0.1966,"paddingOuter":0.1,"align":1,"range":[-8,519]}},
"y":{"datum":20.9,"type":"quantitative","scale":{"domain":[0,22],"nice":false}},
"text":{"field":"label"}}}
]
},
{
"hconcat":[
{"width":53,"height":128,"data":{"name":"leg1"},
"layer":[
{"mark":{"type":"bar","stroke":"#000","strokeWidth":3},
"encoding":{
"y":{"field":"label","type":"nominal","sort":null,"scale":{"paddingInner":0.0625,"paddingOuter":0.631,"align":1},"axis":null},
"x":{"datum":0,"type":"quantitative","scale":{"domain":[0,1],"range":[15,53]},"axis":null},
"x2":{"datum":1},
"fill":{"condition":{"test":"datum.label === 'Cromakalim (2 x 10⁻⁷)'","value":{"gradient":"linear","x1":0,"y1":0,"x2":1,"y2":1,"stops":[
{"offset":0.125,"color":"#fff"},{"offset":0.125,"color":"#000"},{"offset":0.165,"color":"#000"},{"offset":0.165,"color":"#fff"},
{"offset":0.27,"color":"#fff"},{"offset":0.27,"color":"#000"},{"offset":0.31,"color":"#000"},{"offset":0.31,"color":"#fff"},
{"offset":0.415,"color":"#fff"},{"offset":0.415,"color":"#000"},{"offset":0.455,"color":"#000"},{"offset":0.455,"color":"#fff"},
{"offset":0.56,"color":"#fff"},{"offset":0.56,"color":"#000"},{"offset":0.6,"color":"#000"},{"offset":0.6,"color":"#fff"},
{"offset":0.705,"color":"#fff"},{"offset":0.705,"color":"#000"},{"offset":0.745,"color":"#000"},{"offset":0.745,"color":"#fff"},
{"offset":0.85,"color":"#fff"},{"offset":0.85,"color":"#000"},{"offset":0.89,"color":"#000"},{"offset":0.89,"color":"#fff"}]}},"value":"#fff"}}},
{"mark":{"type":"text","color":"#000","fontSize":21,"align":"left","baseline":"middle","dx":8},
"encoding":{
"y":{"field":"label","type":"nominal","sort":null,"scale":{"paddingInner":0.0625,"paddingOuter":0.631,"align":1},"axis":null},
"x":{"datum":1,"type":"quantitative","scale":{"domain":[0,1],"range":[15,53]},"axis":null},
"text":{"field":"label"}}}
]},
{"width":45,"height":128,"data":{"name":"leg2"},
"layer":[
{"mark":{"type":"bar","stroke":"#000","strokeWidth":3},
"encoding":{
"y":{"field":"label","type":"nominal","sort":null,"scale":{"paddingInner":0.0625,"paddingOuter":0.631,"align":1},"axis":null},
"x":{"datum":0,"type":"quantitative","scale":{"domain":[0,1],"range":[0,45]},"axis":null},
"x2":{"datum":1},
"fill":{"condition":[
{"test":"datum.label === 'Cromakalim (2 x 10⁻⁶)'","value":{"gradient":"linear","x1":0,"y1":0,"x2":1,"y2":0,"stops":[
{"offset":0.175,"color":"#fff"},{"offset":0.175,"color":"#000"},{"offset":0.225,"color":"#000"},{"offset":0.225,"color":"#fff"},
{"offset":0.375,"color":"#fff"},{"offset":0.375,"color":"#000"},{"offset":0.425,"color":"#000"},{"offset":0.425,"color":"#fff"},
{"offset":0.575,"color":"#fff"},{"offset":0.575,"color":"#000"},{"offset":0.625,"color":"#000"},{"offset":0.625,"color":"#fff"},
{"offset":0.775,"color":"#fff"},{"offset":0.775,"color":"#000"},{"offset":0.825,"color":"#000"},{"offset":0.825,"color":"#fff"}]}},
{"test":"datum.label === 'Cromakalim (10⁻⁵)'","value":{"gradient":"linear","x1":0,"y1":0,"x2":0,"y2":1,"stops":[
{"offset":0.22,"color":"#fff"},{"offset":0.22,"color":"#000"},{"offset":0.28,"color":"#000"},{"offset":0.28,"color":"#fff"},
{"offset":0.47,"color":"#fff"},{"offset":0.47,"color":"#000"},{"offset":0.53,"color":"#000"},{"offset":0.53,"color":"#fff"},
{"offset":0.72,"color":"#fff"},{"offset":0.72,"color":"#000"},{"offset":0.78,"color":"#000"},{"offset":0.78,"color":"#fff"}]}}
],"value":"#fff"}}},
{"mark":{"type":"text","color":"#000","fontSize":21,"align":"left","baseline":"middle","dx":10},
"encoding":{
"y":{"field":"label","type":"nominal","sort":null,"scale":{"paddingInner":0.0625,"paddingOuter":0.631,"align":1},"axis":null},
"x":{"datum":1,"type":"quantitative","scale":{"domain":[0,1],"range":[0,45]},"axis":null},
"text":{"field":"label"}}}
]}
],
"spacing":242,
"bounds":"flush"
}
]
}
